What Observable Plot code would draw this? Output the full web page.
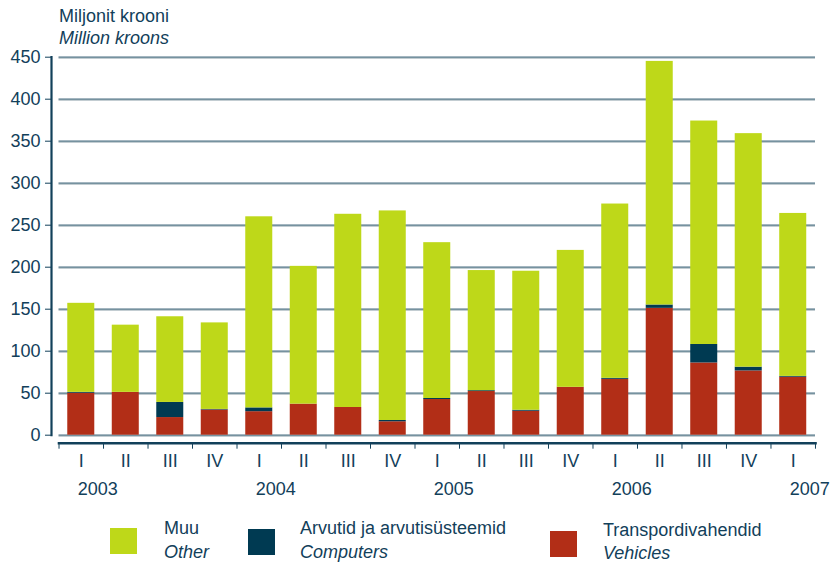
<!DOCTYPE html>
<html><head><meta charset="utf-8">
<script src="https://cdn.jsdelivr.net/npm/d3@7"></script>
<script src="https://cdn.jsdelivr.net/npm/@observablehq/plot@0.6"></script>
<style>
body{margin:0;background:#fff;font-family:"Liberation Sans",Arial,sans-serif;color:#12405a}
#wrap{position:relative;width:830px;height:565px;overflow:hidden}
#chart{position:absolute;left:0;top:0}
.t{position:absolute;font-size:18px;line-height:22px;color:#12405a;white-space:nowrap}
.i{font-style:italic}
.sw{position:absolute;width:27px;height:26px}
.lg{position:absolute;font-size:18px;line-height:23.5px;color:#12405a;white-space:nowrap}
</style></head><body>
<div id="wrap">
  <div id="chart"></div>
  <div class="t" style="left:59px;top:5px">Miljonit krooni<br><span class="i">Million kroons</span></div>
  <div id="legend"></div>
</div>
<script>
// ---- data ----
const quarters = ["I","II","III","IV","I","II","III","IV","I","II","III","IV","I","II","III","IV","I"];
const periodYears = ["2003","2003","2003","2003","2004","2004","2004","2004","2005","2005","2005","2005","2006","2006","2006","2006","2007"];
const vehicles  = [50, 51, 21, 30, 28, 37, 33, 16, 42.5, 52, 28.5, 57, 66.5, 151, 86, 76.5, 69];
const computers = [1, 0, 18, 0.7, 4.5, 0, 0, 1.5, 1.2, 1, 1.2, 0, 1.2, 4, 22, 4.5, 1];
const other     = [106, 80, 102, 103, 227.5, 164, 230, 249.5, 185.5, 143, 165.5, 163, 207.5, 290, 266, 278, 194];
const seriesKeys = ["vehicles", "computers", "other"];
const seriesEt = ["Transpordivahendid", "Arvutid ja arvutisüsteemid", "Muu"];
const seriesEn = ["Vehicles", "Computers", "Other"];
const seriesColors = ["#b22e17", "#003a52", "#bed819"];
const yTicks = [0, 50, 100, 150, 200, 250, 300, 350, 400, 450];

// ---- derived table ----
const periods = quarters.map((q, i) => periodYears[i] + " " + q);
const seriesValues = [vehicles, computers, other];
const rows = [];
periods.forEach((p, i) => {
  seriesKeys.forEach((k, j) => rows.push({period: p, series: k, value: seriesValues[j][i]}));
});
const yearStarts = periods.filter((p, i) => i === 0 || periodYears[i] !== periodYears[i - 1]);
const ink = "#12405a";
const half = 44.5 / 2;

const chart = Plot.plot({
  width: 830, height: 510,
  marginTop: 56.7, marginBottom: 75.3, marginLeft: 58.5, marginRight: 15,
  x: {domain: periods, paddingInner: 0.393, paddingOuter: 0.197, round: false, axis: null},
  y: {domain: [0, 450], axis: null},
  color: {domain: seriesKeys, range: seriesColors},
  style: {fontFamily: "'Liberation Sans', Arial, sans-serif", fontSize: "18px", color: ink, background: "white", overflow: "visible"},
  marks: [
    Plot.ruleY(yTicks, {stroke: "#bcc7cd", strokeWidth: 1, dy: 1.2}),
    Plot.ruleY(yTicks, {stroke: "#4b6f81", strokeWidth: 1.3}),
    Plot.barY(rows, {x: "period", y: "value", fill: "series"}),
    Plot.frame({anchor: "left", dx: -7.5, stroke: ink, strokeWidth: 2.2}),
    Plot.axisY({ticks: yTicks, tickSize: 6, tickPadding: 5, dx: -7.5, color: ink, fontSize: 18, label: null, tickFormat: d => String(d)}),
    Plot.frame({anchor: "bottom", dy: 8, stroke: ink, strokeWidth: 2.6}),
    Plot.axisX({ticks: periods, tickSize: 6, dy: 8, dx: -half, color: ink, label: null, tickFormat: () => ""}),
    Plot.axisX({ticks: [periods[periods.length - 1]], tickSize: 6, dy: 8, dx: half, color: ink, label: null, tickFormat: () => ""}),
    Plot.text(periods, {x: d => d, text: (d, i) => quarters[i], frameAnchor: "bottom", dy: 32, fill: ink, fontSize: 18}),
    Plot.text(yearStarts, {x: d => d, text: d => d.split(" ")[0], frameAnchor: "bottom", dy: 60, dx: -3.5, textAnchor: "start", fill: ink, fontSize: 18})
  ]
});
document.getElementById("chart").appendChild(chart);

// ---- legend (HTML) ----
const legendPos = [
  {key: "other", sx: 110, sy: 528, tx: 164, ty: 517},
  {key: "computers", sx: 248, sy: 529, tx: 300, ty: 517},
  {key: "vehicles", sx: 550, sy: 531, tx: 603, ty: 518.5}
];
const lg = document.getElementById("legend");
legendPos.forEach(l => {
  const j = seriesKeys.indexOf(l.key);
  const sw = document.createElement("div");
  sw.className = "sw";
  sw.style.left = l.sx + "px"; sw.style.top = l.sy + "px"; sw.style.background = seriesColors[j];
  lg.appendChild(sw);
  const t = document.createElement("div");
  t.className = "lg";
  t.style.left = l.tx + "px"; t.style.top = l.ty + "px";
  t.innerHTML = seriesEt[j] + "<br><span class='i'>" + seriesEn[j] + "</span>";
  lg.appendChild(t);
});
</script>
</body></html>
